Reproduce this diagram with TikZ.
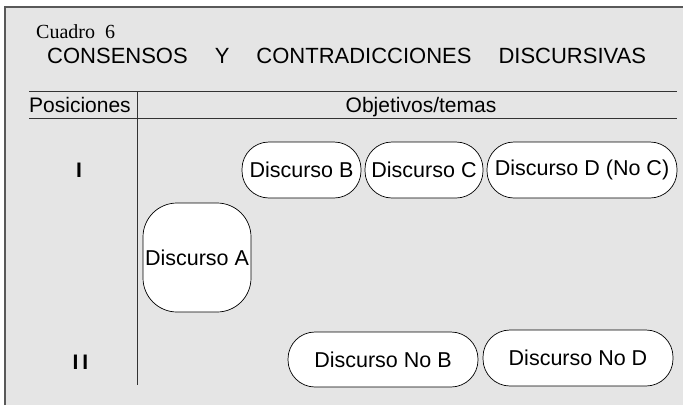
\documentclass[tikz,border=0pt]{standalone}
\usepackage{fontspec}
\setmainfont{Liberation Sans}
\newfontfamily\cuadrofont{Liberation Serif}
\usetikzlibrary{calc}
\definecolor{fondo}{RGB}{229,229,229}

\begin{document}
\begin{tikzpicture}[x=1pt, y=-1pt,
    discurso/.style={draw, fill=white, line width=0.7pt, rounded corners=27pt, minimum height=56pt, inner sep=2pt, font=\fontsize{21.5}{25}\selectfont},
    rotulo/.style={inner sep=0pt, font=\fontsize{21}{25}\selectfont}]
            \useasboundingbox (0,0) rectangle (683,405);
            \fill[white] (0,0) rectangle (683,405);
            \fill[fondo] (5,7) rectangle (683,405);
            \draw[line width=1.3pt, black!65] (5,405) -- (5,7) -- (683,7);

            % encabezado
            \node[anchor=base west, inner sep=0pt, font=\cuadrofont\fontsize{20}{24}\selectfont] (cuadro) at (36,38) {Cuadro\hspace{10pt}6};
            \node[anchor=base west, inner sep=0pt, font=\fontsize{22}{26}\selectfont] (titulo) at (47,63) {CONSENSOS\hspace{27pt}Y\hspace{27pt}CONTRADICCIONES\hspace{27pt}DISCURSIVAS};

            % tabla
            \draw[line width=0.8pt, black!80] (29,91) coordinate (L1) -- (677,91) coordinate (R1);
            \draw[line width=0.8pt, black!80] (29,118) coordinate (L2) -- (677,118) coordinate (R2);
            \draw[line width=0.8pt, black!80] (137.5,91) coordinate (T) -- (137.5,385) coordinate (S);
            \node[rotulo, anchor=base west] (posiciones) at (29,112) {Posiciones};
            \node[rotulo, anchor=base] (objetivos) at (421,112) {Objetivos/temas};
            \node[rotulo, anchor=base, font=\bfseries\fontsize{21}{25}\selectfont] (pos I) at (79,177) {I};
            \node[rotulo, anchor=base, font=\bfseries\fontsize{21}{25}\selectfont] (pos II) at (80.5,369) {I\kern4pt I};

            % discursos
            \node[discurso, minimum width=119pt] (B) at (301.5,170) {Discurso B};
            \node[discurso, minimum width=118pt] (C) at (424,170) {Discurso C};
            \node[discurso, minimum width=190pt] (D) at (582,170) {Discurso D (No C)};
            \node[discurso, minimum width=108pt, minimum height=109pt, rounded corners=34pt, inner sep=0pt] (A) at (197,257.5) {Discurso A};
            \node[discurso, minimum width=190pt, minimum height=55pt] (noB) at (383,359.5) {Discurso No B};
            \node[discurso, minimum width=190pt] (noD) at (578,358) {Discurso No D};
        \end{tikzpicture}
\end{document}
